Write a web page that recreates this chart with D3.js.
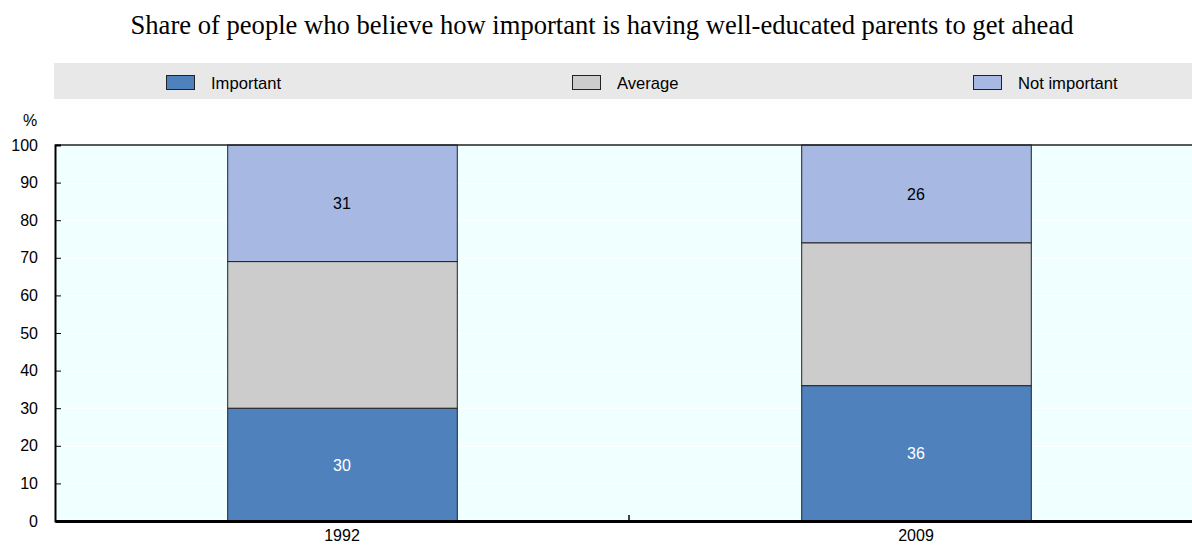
<!DOCTYPE html>
<html>
<head>
<meta charset="utf-8">
<script src="https://cdn.jsdelivr.net/npm/d3@7"></script>
<style>
  html, body { margin: 0; padding: 0; background: #ffffff; }
  svg { display: block; }
</style>
</head>
<body>
<svg id="chart" width="1192" height="546"></svg>
<script>
// Data
const years = ["1992", "2009"];
const seriesNames = ["Important", "Average", "Not important"];
const important = [30, 36];
const average = [39, 38];
const notImportant = [31, 26];
const yTicks = [0, 10, 20, 30, 40, 50, 60, 70, 80, 90, 100];
const seriesColors = ["#4f81bd", "#cccccc", "#a7b9e3"];
const labelColors = ["#ffffff", null, "#000000"];
const titleText = "Share of people who believe how important is having well-educated parents to get ahead";

const svg = d3.select("#chart");
const W = 1192, H = 546;
const margin = { left: 55, right: -11, top: 145, bottom: 25 };
const x0 = margin.left, x1 = W - margin.right;
const y0 = H - margin.bottom, y1 = margin.top;

const x = d3.scaleBand().domain(years).range([x0, x1]).paddingInner(0.6).paddingOuter(0.3);
const y = d3.scaleLinear().domain([0, 100]).range([y0, y1]);

// Title
svg.append("text")
  .attr("x", 602).attr("y", 34)
  .attr("text-anchor", "middle")
  .attr("font-family", "'Liberation Serif', 'Times New Roman', serif")
  .attr("font-size", 26.6)
  .attr("fill", "#000")
  .text(titleText);

// Legend band
svg.append("rect").attr("x", 54).attr("y", 63).attr("width", W - 54).attr("height", 36).attr("fill", "#e8e8e8");
const legendX = [166, 572, 973];
seriesNames.forEach((name, i) => {
  svg.append("rect")
    .attr("x", legendX[i] + 0.5).attr("y", 75.5).attr("width", 28).attr("height", 14)
    .attr("fill", seriesColors[i]).attr("stroke", "#222").attr("stroke-width", 1);
  svg.append("text")
    .attr("x", legendX[i] + 45).attr("y", 88.5)
    .attr("font-family", "'Liberation Sans', Arial, sans-serif")
    .attr("font-size", 16.6).attr("fill", "#000")
    .text(name);
});

// Plot background
svg.append("rect").attr("x", x0).attr("y", y1).attr("width", x1 - x0).attr("height", y0 - y1).attr("fill", "#f0ffff");

// Horizontal gridlines
svg.append("g").selectAll("line").data(yTicks.filter(d => d > 0 && d < 100)).join("line")
  .attr("x1", x0).attr("x2", x1)
  .attr("y1", d => Math.round(y(d)) + 0.5).attr("y2", d => Math.round(y(d)) + 0.5)
  .attr("stroke", "#ffffff").attr("stroke-width", 1);

// Stacked bars
const rows = years.map((yr, i) => ({ year: yr, Important: important[i], Average: average[i], "Not important": notImportant[i] }));
const stack = d3.stack().keys(seriesNames)(rows);

stack.forEach((layer, si) => {
  const g = svg.append("g");
  g.selectAll("rect").data(layer).join("rect")
    .attr("x", d => x(d.data.year) + 0.5)
    .attr("y", d => y(d[1]))
    .attr("width", x.bandwidth())
    .attr("height", d => y(d[0]) - y(d[1]))
    .attr("fill", seriesColors[si])
    .attr("stroke", "#222").attr("stroke-width", 1);
  if (labelColors[si]) {
    g.selectAll("text").data(layer).join("text")
      .attr("x", d => x(d.data.year) + x.bandwidth() / 2)
      .attr("y", d => (y(d[0]) + y(d[1])) / 2 + 6)
      .attr("text-anchor", "middle")
      .attr("font-family", "'Liberation Sans', Arial, sans-serif")
      .attr("font-size", 16)
      .attr("fill", labelColors[si])
      .text(d => d[1] - d[0]);
  }
});

// Top border
svg.append("line").attr("x1", x0).attr("x2", x1).attr("y1", y1).attr("y2", y1)
  .attr("stroke", "#222").attr("stroke-width", 1.5);

// Y axis
const yAxis = d3.axisLeft(y).tickValues(yTicks).tickSize(-6).tickPadding(17);
const gy = svg.append("g").attr("transform", `translate(${x0},0)`).call(yAxis);
gy.select(".domain").attr("stroke", "#000").attr("stroke-width", 2);
gy.selectAll(".tick line").attr("stroke", "#000");
gy.selectAll(".tick text").attr("font-family", "'Liberation Sans', Arial, sans-serif").attr("font-size", 16).attr("fill", "#000");

svg.append("text").attr("x", 30).attr("y", 126).attr("text-anchor", "middle")
  .attr("font-family", "'Liberation Sans', Arial, sans-serif").attr("font-size", 16).attr("fill", "#000").text("%");

// X axis
const xAxis = d3.axisBottom(x).tickSize(0).tickPadding(9);
const gx = svg.append("g").attr("transform", `translate(0,${y0})`).call(xAxis);
gx.select(".domain").attr("stroke", "#000").attr("stroke-width", 3);
gx.selectAll(".tick text").attr("font-family", "'Liberation Sans', Arial, sans-serif").attr("font-size", 16).attr("fill", "#000");

// Separator tick between categories
const sepX = (x(years[0]) + x.bandwidth() / 2 + x(years[1]) + x.bandwidth() / 2) / 2;
svg.append("line").attr("x1", sepX).attr("x2", sepX).attr("y1", y0).attr("y2", y0 - 6)
  .attr("stroke", "#000").attr("stroke-width", 1.5);
</script>
</body>
</html>
